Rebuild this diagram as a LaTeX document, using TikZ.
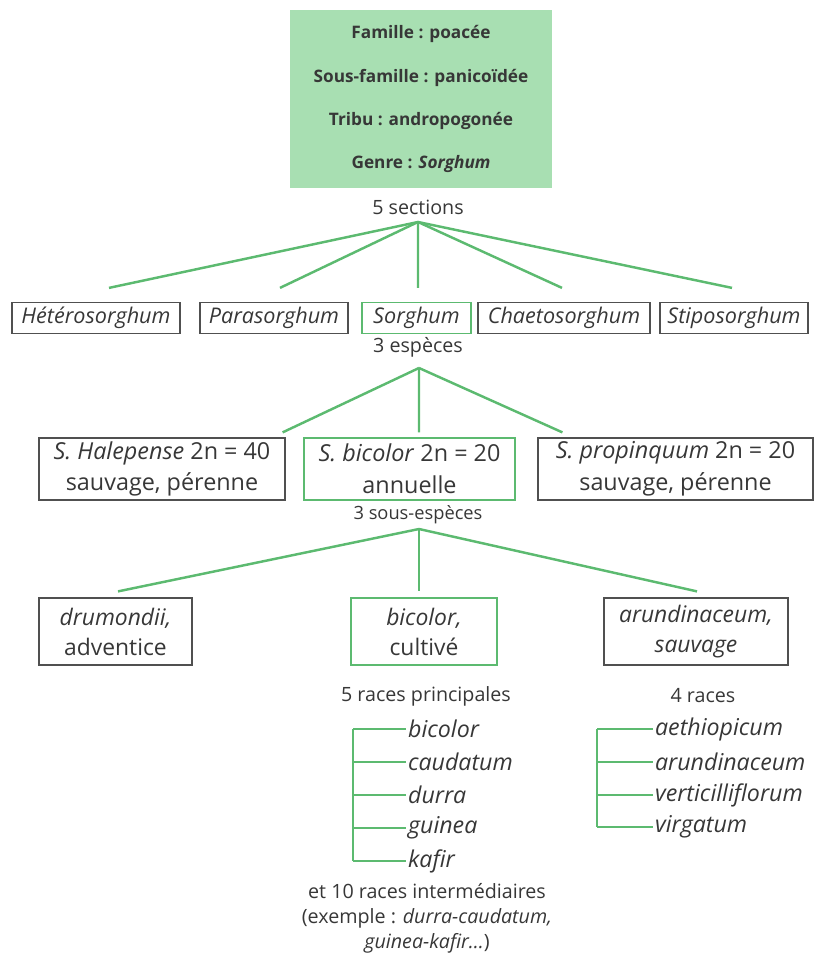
\documentclass[tikz,border=0pt]{standalone}
\usepackage{fontspec}
\setmainfont{Open Sans}
\usetikzlibrary{positioning}
\definecolor{sorghgreen}{RGB}{92,186,112}
\definecolor{sorghfill}{RGB}{168,223,178}
\definecolor{sorghtext}{RGB}{55,55,55}
\definecolor{sorghframe}{RGB}{80,80,80}

\begin{document}
\begin{tikzpicture}[
    x=0.02cm, y=-0.02cm,
    rank/.style={
        rectangle,
        fill=sorghfill,
        minimum width=5.24cm,
        minimum height=3.56cm,
        align=center,
        text=sorghtext,
        font=\fontsize{9.8}{24.5}\selectfont\bfseries
    },
    taxon/.style={
        rectangle,
        draw=sorghframe,
        line width=0.7pt,
        inner sep=0pt,
        align=center,
        text=sorghtext,
        font=\fontsize{13.3}{18}\selectfont
    },
    section/.style={
        taxon,
        minimum height=0.62cm,
        font=\fontsize{12.3}{14}\selectfont\itshape
    },
    kept/.style={
        draw=sorghgreen
    },
    count/.style={
        inner sep=1pt,
        align=center,
        text=sorghtext,
        font=\fontsize{11.2}{14.2}\selectfont
    },
    race/.style={
        anchor=west,
        inner sep=1pt,
        text=sorghtext,
        font=\fontsize{13.2}{15}\selectfont\itshape
    },
    branch/.style={
        draw=sorghgreen,
        line width=1.4pt
    },
    twig/.style={
        draw=sorghgreen,
        line width=1.2pt
    }
]

% Page
\useasboundingbox (0,0) rectangle (825,956);

% Genre
\node[rank] (genre) at (421,99) {Famille : poacée\\Sous-famille : panicoïdée\\Tribu : andropogonée\\Genre : \textit{Sorghum}};

% Sections
\node[count] (sections) at (418,207) {5 sections};
\coordinate (sechub) at (418,222);

\node[section, minimum width=3.36cm] (hetero) at (96,318) {Hétérosorghum};
\node[section, minimum width=2.96cm] (para) at (274,318) {Parasorghum};
\node[section, kept, minimum width=2.18cm] (sorgh) at (416.5,318) {Sorghum};
\node[section, minimum width=3.44cm] (chaeto) at (564,318) {Chaetosorghum};
\node[section, minimum width=2.96cm] (stipo) at (734,318) {Stiposorghum};

\draw[branch] (sechub) -- ([shift={(13,-14)}]hetero.north);
\draw[branch] (sechub) -- ([shift={(6,-14)}]para.north);
\draw[branch] (sechub) -- ([shift={(1.5,-14)}]sorgh.north);
\draw[branch] (sechub) -- ([shift={(-2,-14)}]chaeto.north);
\draw[branch] (sechub) -- ([shift={(-2,-14)}]stipo.north);

% Especes
\node[count] (especes) at (418,347) {3 espèces};
\coordinate (sphub) at (419,368);

\node[taxon, minimum width=4.92cm, minimum height=1.24cm] (halep) at (162,469) {\textit{S. Halepense} 2n = 40\\sauvage, pérenne};
\node[taxon, kept, minimum width=4.22cm, minimum height=1.24cm] (bicol) at (409.5,469) {\textit{S. bicolor} 2n = 20\\annuelle};
\node[taxon, minimum width=5.5cm, minimum height=1.24cm] (propin) at (675.5,469) {\textit{S. propinquum} 2n = 20\\sauvage, pérenne};

\draw[branch] (sphub) -- ([shift={(-3,-5)}]halep.north east);
\draw[branch] (sphub) -- ([shift={(9.5,-5)}]bicol.north);
\draw[branch] (sphub) -- ([shift={(25,-5)}]propin.north west);

% Sous-especes
\node[count, font=\fontsize{10.4}{13}\selectfont] (sousesp) at (418,515) {3 sous-espèces};
\coordinate (sshub) at (419,529);

\node[taxon, minimum width=3.06cm, minimum height=1.34cm, font=\fontsize{13}{17}\selectfont] (drum) at (115.5,631.5) {\textit{drumondii,}\\adventice};
\node[taxon, kept, minimum width=2.92cm, minimum height=1.34cm, font=\fontsize{13}{17}\selectfont] (bicsub) at (424,631.5) {\textit{bicolor,}\\cultivé};
\node[taxon, minimum width=3.68cm, minimum height=1.34cm, font=\fontsize{13}{17}\selectfont] (arund) at (696,631.5) {\textit{arundinaceum,}\\\textit{sauvage}};

\draw[branch] (sshub) -- ([shift={(2.5,-6)}]drum.north);
\draw[branch] (sshub) -- ([shift={(-5,-6)}]bicsub.north);
\draw[branch] (sshub) -- ([shift={(1,-6)}]arund.north);

% Races
\node[count] (racesL) at (426,696) {5 races principales};
\node[count] (racesR) at (703,696) {4 races};

\coordinate (spineL) at (353,729);
\node[race] (rbicolor) at (406,729) {bicolor};
\node[race] (rcaudatum) at (406,762) {caudatum};
\node[race] (rdurra) at (406,795) {durra};
\node[race] (rguinea) at (406,828) {guinea};
\node[race] (rkafir) at (406,861) {kafir};

\draw[twig] (rbicolor.west -| spineL) -- (rkafir.west -| spineL);
\foreach \r in {rbicolor, rcaudatum, rdurra, rguinea, rkafir} {
    \draw[twig] (\r.west -| spineL) -- (\r.west);
}

\coordinate (spineR) at (597,729);
\node[race] (raethiop) at (653,729) {aethiopicum};
\node[race] (rarund) at (653,762) {arundinaceum};
\node[race] (rvertic) at (653,795) {verticilliflorum};
\node[race] (rvirgat) at (653,827) {virgatum};

\draw[twig] (raethiop.west -| spineR) -- (rvirgat.west -| spineR);
\foreach \r in {raethiop, rarund, rvertic, rvirgat} {
    \draw[twig] (\r.west -| spineR) -- (\r.west);
}

\node[count] (interm) at (427,918) {et 10 races intermédiaires\\(exemple : \textit{durra-caudatum,}\\\textit{guinea-kafir...})};

\end{tikzpicture}
\end{document}
